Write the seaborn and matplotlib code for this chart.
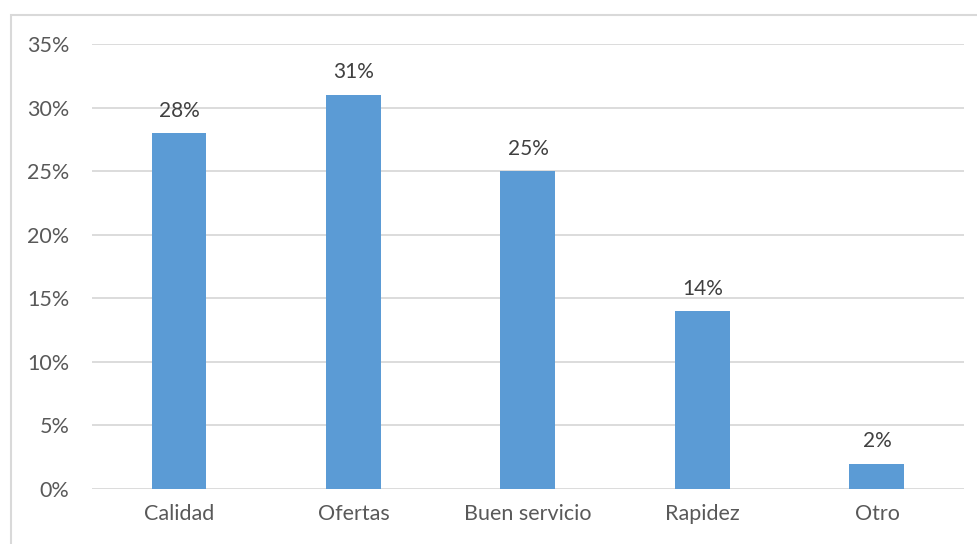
import matplotlib
matplotlib.use("Agg")
import matplotlib.pyplot as plt
from matplotlib.patches import Rectangle
from matplotlib.ticker import FuncFormatter, MultipleLocator
import seaborn as sns
import pandas as pd

categories = ["Calidad", "Ofertas", "Buen servicio", "Rapidez", "Otro"]
values = [28, 31, 25, 14, 2]
labels = ["28%", "31%", "25%", "14%", "2%"]

sns.set_theme(style="white")
plt.rcParams["font.family"] = ["Lato", "DejaVu Sans"]

df = pd.DataFrame({"categoria": categories, "valor": values})

fig = plt.figure(figsize=(9.77, 5.44), dpi=100)
ax = fig.add_axes([0.0939, 0.1011, 0.893, 0.818])

sns.barplot(data=df, x="categoria", y="valor", color="#5b9bd5",
            saturation=1, width=0.315, linewidth=0, ax=ax, zorder=3)

ax.set_ylim(0, 35)
ax.yaxis.set_major_locator(MultipleLocator(5))
ax.yaxis.set_major_formatter(FuncFormatter(lambda v, _: f"{v:.0f}%"))
ax.grid(axis="y", color="#d9d9d9", linewidth=1.3, zorder=0)
ax.set_axisbelow(True)
for s in ax.spines.values():
    s.set_visible(False)
ax.set_xlabel("")
ax.set_ylabel("")
ax.tick_params(axis="both", length=0, labelsize=15.5, labelcolor="#595959")
ax.tick_params(axis="y", pad=16)
ax.tick_params(axis="x", pad=11)

for p, lab in zip(ax.patches, labels):
    ax.annotate(lab, (p.get_x() + p.get_width() / 2, p.get_height()),
                xytext=(0, 9), textcoords="offset points",
                ha="center", va="bottom", fontsize=15, color="#404040")

# chart frame
fig.patches.append(Rectangle((11 / 977, -0.1), 1.2, 1 - 15 / 544 + 0.1,
                             transform=fig.transFigure, fill=False,
                             edgecolor="#d9d9d9", linewidth=1.5))

fig.savefig("out.png", dpi=100)
